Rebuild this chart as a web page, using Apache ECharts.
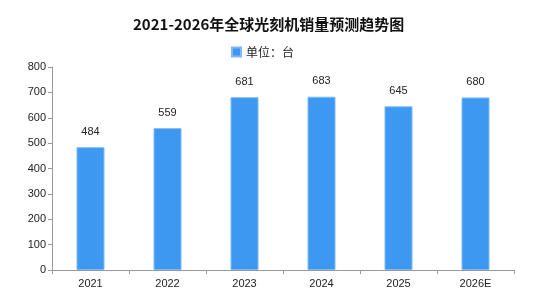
<!DOCTYPE html>
<html><head><meta charset="utf-8">
<script src="https://cdn.jsdelivr.net/npm/echarts@6/dist/echarts.min.js"></script>
<style>html,body{margin:0;padding:0;background:#fff}#c{width:555px;height:296px}</style>
</head><body><div id="c"></div>
<script>
const categories = ['2021','2022','2023','2024','2025','2026E'];
const values = [484, 559, 681, 683, 645, 680];
const seriesName = '单位：台';
const titleText = '2021-2026年全球光刻机销量预测趋势图';

const chart = echarts.init(document.getElementById('c'));
chart.setOption({
  animation: false,
  title: {text: titleText, left: 128, top: 12,
    textStyle: {fontSize: 15, fontWeight: 'bold', color: '#111', fontFamily: '"Noto Sans CJK SC", sans-serif'}},
  legend: {top: 41, left: 226, itemWidth: 9, itemHeight: 9, icon: 'rect', itemGap: 5,
    textStyle: {fontSize: 12, color: '#222', fontFamily: '"Noto Sans CJK SC", sans-serif'}},
  grid: {left: 52, right: 41, top: 67, bottom: 26},
  xAxis: {type: 'category', data: categories,
    axisLine: {lineStyle: {color: '#999'}},
    axisTick: {show: true, alignWithLabel: false, length: 4, lineStyle: {color: '#999'}},
    axisLabel: {fontSize: 11, color: '#222', margin: 8, fontFamily: 'Liberation Sans, sans-serif'}},
  yAxis: {type: 'value', min: 0, max: 800, interval: 100,
    axisLine: {show: true, lineStyle: {color: '#999'}},
    axisTick: {show: true, length: 4, lineStyle: {color: '#999'}},
    splitLine: {show: false},
    axisLabel: {fontSize: 11, color: '#222', margin: 6, fontFamily: 'Liberation Sans, sans-serif'}},
  series: [{name: seriesName, type: 'bar', data: values, barWidth: 28,
    itemStyle: {color: '#3c98f0', borderColor: '#7fbaf5', borderWidth: 1},
    label: {show: true, position: 'top', distance: 10, fontSize: 11, color: '#222', fontFamily: 'Liberation Sans, sans-serif'}}]
});
</script></body></html>
